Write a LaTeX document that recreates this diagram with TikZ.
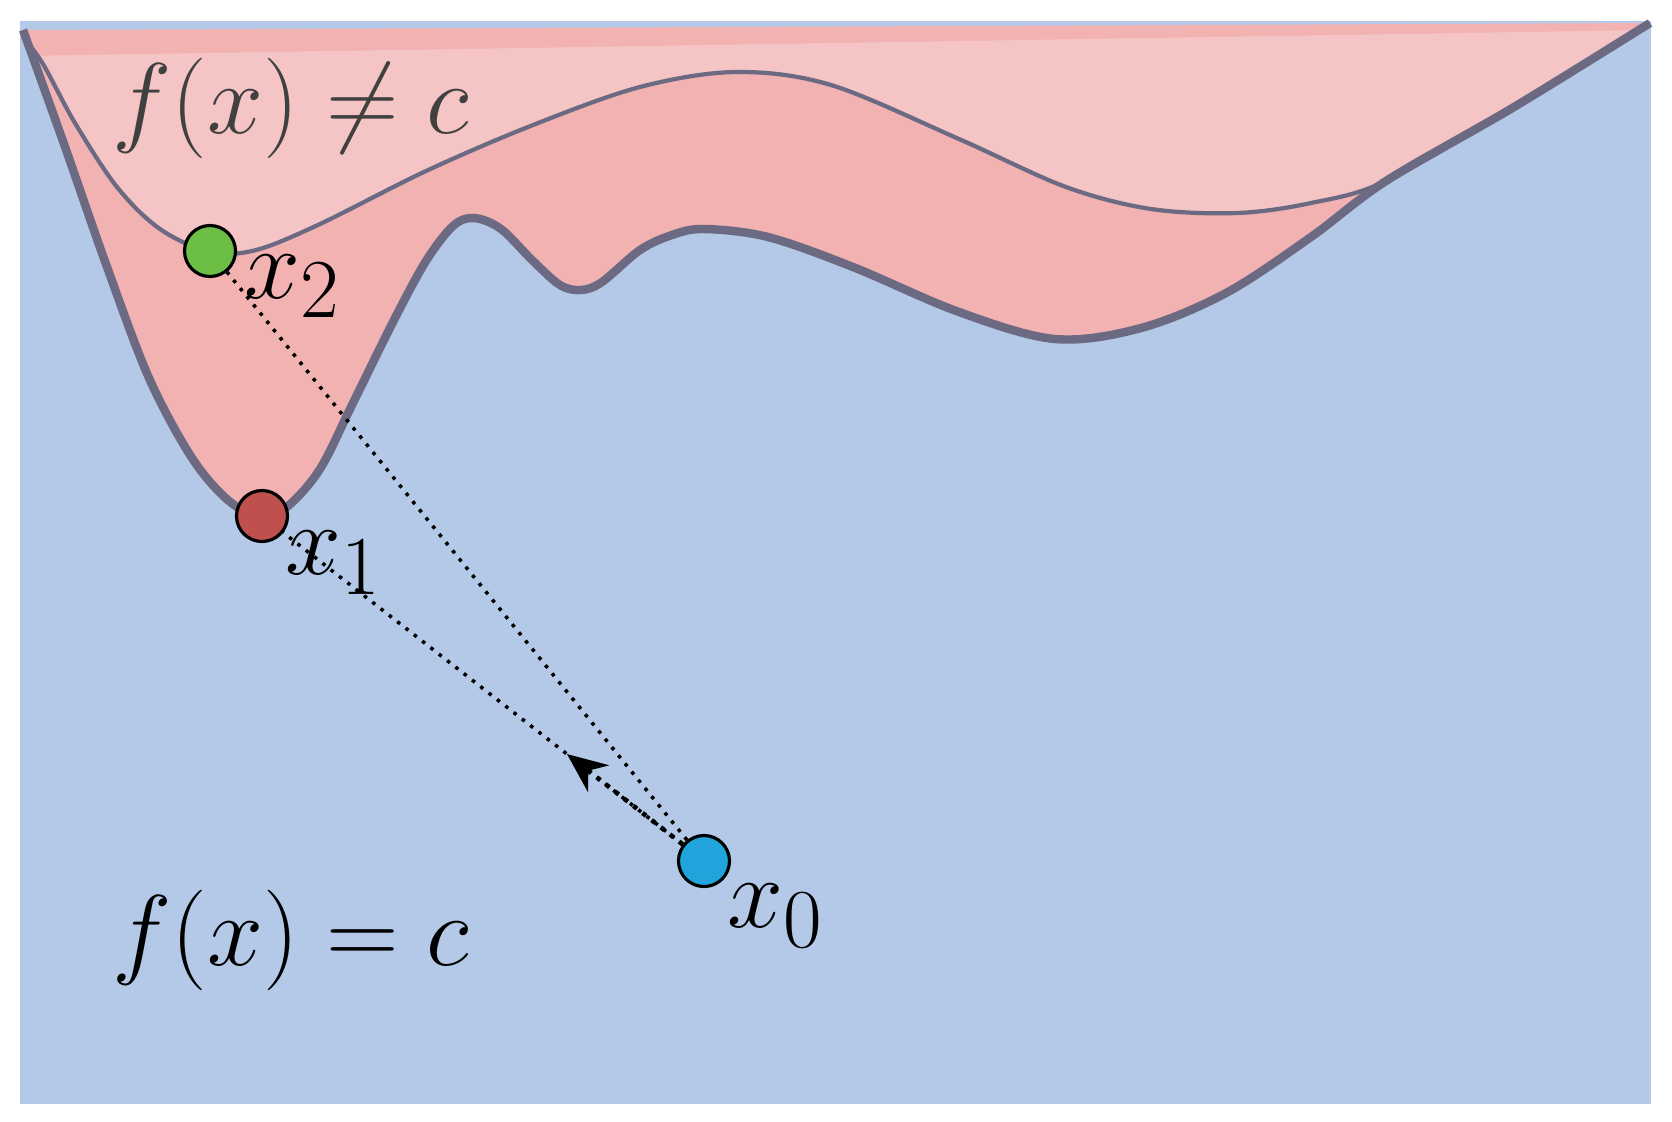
\documentclass[tikz,border=0pt]{standalone}
\usepackage{amsmath}
\usepackage{amssymb}
\usepackage{xcolor}
\usepackage{graphicx}
\usepackage{tikz}
\usetikzlibrary{arrows.meta, calc, positioning}

\definecolor{bgblue}{HTML}{B4C9E7}
\definecolor{pinkdark}{HTML}{F2B2B2}
\definecolor{pinklight}{HTML}{F5C5C5}
\definecolor{curvegray}{HTML}{6B6A82}
\definecolor{ptgreen}{HTML}{6CBE45}
\definecolor{ptred}{HTML}{C0504D}
\definecolor{ptblue}{HTML}{1FA4DC}
\definecolor{txtgray}{HTML}{404040}

\newcommand{\lblmath}[1]{\scalebox{1.15}{$#1$}}

\tikzset{
    lowcurve/.style={insert path={plot[smooth, tension=0.55] coordinates {
        (23,30) (64,144) (107,267) (149,378) (192,458) (229,501) (262,517)
        (288,506) (320,469) (352,405) (394,320) (426,261) (453,226) (474,218)
        (501,229) (533,261) (560,285) (581,290) (602,282) (640,250) (672,235)
        (704,229) (768,237) (853,267) (959,312) (1055,339) (1141,328)
        (1226,293) (1311,237) (1386,181) (1514,107) (1650,23)}}},
    highcurve/.style={insert path={plot[smooth, tension=0.55] coordinates {
        (23,37) (43,64) (75,123) (117,187) (160,229) (210,252) (256,250)
        (320,224) (426,171) (533,125) (640,87) (736,72) (831,85) (959,139)
        (1066,187) (1151,209) (1237,213) (1311,203) (1386,181) (1514,107)
        (1650,23)}}}
}

\begin{document}
\begin{tikzpicture}[x=0.1mm, y=-0.1mm,
    pt/.style={circle, draw=black, line width=0.9pt, minimum size=5.1mm, inner sep=0pt},
    lbl/.style={inner sep=1pt, font=\fontsize{24.88}{30}\selectfont},
    trail/.style={dotted, line width=1pt}]
    \useasboundingbox (0,0) rectangle (1672,1121);

    % fond
    \fill[bgblue] (20,21) rectangle (1651,1104);

    % zones
    \fill[pinkdark, lowcurve] -- cycle;
    \begin{scope}
        \clip (20,56) -- (1651,30) -- (1651,1104) -- (20,1104) -- cycle;
        \fill[pinklight, highcurve] -- cycle;
    \end{scope}

    % courbes
    \draw[curvegray, line width=1.2pt, highcurve];
    \draw[curvegray, line width=2.4pt, lowcurve];

    % points
    \node[pt, fill=ptgreen] (x2) at (210,251) {};
    \node[pt, fill=ptred] (x1) at (262,516) {};
    \node[pt, fill=ptblue] (x0) at (704,861) {};

    % chemins
    \draw[trail] (x0) -- (x1);
    \draw[trail] (x0) -- (x2);
    \coordinate (g) at ($(x0)!0.31!(x1)$);
    \draw[trail, line width=1.3pt, -{Stealth[length=4mm, width=3.4mm]}] (x0) -- (g);

    % etiquettes
    \node[lbl, anchor=north west] (x2lbl) at ([xshift=0.3mm]x2.east) {\lblmath{x_2}};
    \node[lbl, anchor=north west] (x1lbl) at ([yshift=0.8mm]x1.south east) {\lblmath{x_1}};
    \node[lbl, anchor=north west] (x0lbl) at (x0.south east) {\lblmath{x_0}};
    \node[lbl, text=txtgray, anchor=base west] (neq) at (108,133) {\lblmath{f(x) \neq c}};
    \node[lbl, anchor=base west] (eq) at (108,965) {\lblmath{f(x) = c}};
\end{tikzpicture}
\end{document}
